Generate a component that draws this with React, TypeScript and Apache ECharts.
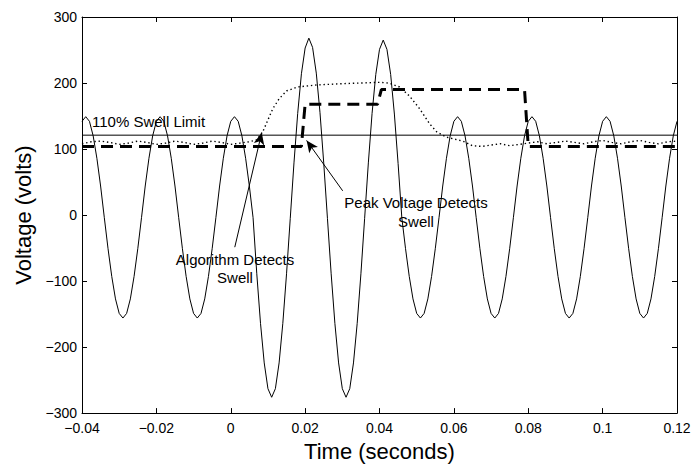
import { useEffect, useRef } from "react";
import * as echarts from "echarts";

// Sampled voltage waveform (1 ms spacing from -0.04 s to 0.12 s)
const T_START = -0.04;
const T_STEP = 0.001;
const voltage = [
  142,
  149, 142, 120, 86, 44, -4, -51, -93, -127, -149, -156, -149, -127, -93, -51, -4, 44, 86, 120, 142,
  149, 142, 120, 86, 44, -4, -51, -93, -127, -149, -156, -149, -127, -93, -51, -4, 44, 86, 120, 142,
  149, 142, 120, 86, 44,
  -4,
  -89, -164, -224, -263, -276, -263, -224, -164, -89, -5, 79, 154, 214, 253,
  268, 254, 215, 155, 79, -5, -89, -164, -224, -263, -276, -263, -224, -164, -89, -5, 79, 154, 213, 251,
  265, 251, 213, 153, 78,
  -4,
  -51, -93, -127, -149, -156, -149, -127, -93, -51, -4, 44, 86, 120, 142,
  149, 142, 120, 86, 44, -4, -51, -93, -127, -149, -156, -149, -127, -93, -51, -4, 44, 86, 120, 142,
  149, 142, 120, 86, 44, -4, -51, -93, -127, -149, -156, -149, -127, -93, -51, -4, 44, 86, 120, 142,
  149, 142, 120, 86, 44, -4, -51, -93, -127, -149, -156, -149, -127, -93, -51, -4, 44, 86, 120, 142,
];

// Algorithm (dotted) estimate
const algorithmT = [
  -0.04, -0.0375, -0.035, -0.0325, -0.03, -0.0275, -0.025, -0.0225, -0.02, -0.0175, -0.015, -0.0125,
  -0.01, -0.0075, -0.005, -0.0025, 0, 0.0025, 0.005, 0.007, 0.0086, 0.0113, 0.013, 0.015, 0.018, 0.023,
  0.03, 0.035, 0.04, 0.0425, 0.0454, 0.0481, 0.0508, 0.0535, 0.0554, 0.058, 0.0624, 0.065, 0.0675, 0.07,
  0.0725, 0.075, 0.0775, 0.08, 0.0825, 0.085, 0.0875, 0.09, 0.0925, 0.095, 0.0975, 0.1, 0.1025, 0.105,
  0.1075, 0.11, 0.1125, 0.115, 0.1175, 0.12,
];
const algorithmV = [
  108, 111, 112, 110, 107, 109, 112, 110, 107, 109, 112, 110,
  107, 109, 112, 110, 107, 109, 111, 114, 126, 161, 176, 188, 194, 197,
  199, 200, 201, 200, 194, 180, 161, 138, 126, 118, 112, 105, 104, 106,
  108, 105, 107, 109, 111, 108, 110, 112, 110, 108, 111, 113, 110, 108,
  111, 113, 110, 108, 111, 112,
];

// Peak voltage (dashed) estimate
const peakT = [-0.04, 0.019, 0.02, 0.0395, 0.0405, 0.079, 0.08, 0.12];
const peakV = [104, 104, 168, 168, 190, 190, 104, 104];

// 110% swell limit
const limitT = [-0.04, 0.12];
const limitV = [121, 121];

// Axis ranges
const X_MIN = -0.04, X_MAX = 0.12, X_STEP = 0.02;
const Y_MIN = -300, Y_MAX = 300, Y_STEP = 100;

// Annotation arrows: [tailT, tailV, tipT, tipV]
const arrowAlgorithm = [0.00108, -48.7, 0.00834, 125];
const arrowPeak = [0.0301, 36.7, 0.0204, 113];

const FONT = "'Liberation Sans', Arial, Helvetica, sans-serif";

const fmt = (v: number) => String(Math.round(v * 1000) / 1000).replace("-", "\u2212");

export default function App() {
  const ref = useRef<HTMLDivElement>(null);
  useEffect(() => {
    if (!ref.current) return;
    const chart = echarts.init(ref.current, undefined, { renderer: "svg" });
    const zip = (t: number[], v: number[]) => t.map((x, i) => [x, v[i]]);
    const sine = voltage.map((v, i) => [T_START + i * T_STEP, v]);
    const axisCommon = {
      axisLine: { show: true, onZero: false, lineStyle: { color: "#000", width: 1 } },
      axisTick: { show: true, inside: true, length: 5, lineStyle: { color: "#000", width: 1 } },
      splitLine: { show: false },
    };
    chart.setOption({
      animation: false,
      backgroundColor: "#fff",
      textStyle: { fontFamily: FONT },
      grid: { left: 82, right: 17, top: 17, bottom: 49, containLabel: false },
      xAxis: [
        {
          type: "value", min: X_MIN, max: X_MAX, interval: X_STEP, position: "bottom",
          ...axisCommon,
          axisLabel: { color: "#000", fontSize: 14, fontFamily: FONT, margin: 8, formatter: fmt },
          name: "Time (seconds)", nameLocation: "middle", nameGap: 24,
          nameTextStyle: { color: "#000", fontSize: 22, fontFamily: FONT },
        },
        {
          type: "value", min: X_MIN, max: X_MAX, interval: X_STEP, position: "top",
          ...axisCommon, axisLabel: { show: false },
        },
      ],
      yAxis: [
        {
          type: "value", min: Y_MIN, max: Y_MAX, interval: Y_STEP, position: "left",
          ...axisCommon,
          axisLabel: { color: "#000", fontSize: 14, fontFamily: FONT, margin: 5, formatter: fmt },
          name: "Voltage (volts)", nameLocation: "middle", nameGap: 47,
          nameTextStyle: { color: "#000", fontSize: 22, fontFamily: FONT },
        },
        {
          type: "value", min: Y_MIN, max: Y_MAX, interval: Y_STEP, position: "right",
          ...axisCommon, axisLabel: { show: false },
        },
      ],
      series: [
        {
          type: "line", data: zip(limitT, limitV), showSymbol: false, silent: true,
          lineStyle: { color: "#000", width: 1 },
          markLine: {
            silent: true, symbol: ["none", "arrow"], symbolSize: [8, 12],
            label: { show: false },
            lineStyle: { color: "#000", width: 1, type: "solid" },
            data: [
              [{ coord: [arrowAlgorithm[0], arrowAlgorithm[1]] }, { coord: [arrowAlgorithm[2], arrowAlgorithm[3]] }],
              [{ coord: [arrowPeak[0], arrowPeak[1]] }, { coord: [arrowPeak[2], arrowPeak[3]] }],
            ],
          },
        },
        {
          type: "line", data: zip(algorithmT, algorithmV), showSymbol: false, silent: true,
          lineStyle: { color: "#000", width: 1.4, type: [1.4, 2.8] },
        },
        {
          type: "line", data: zip(peakT, peakV), showSymbol: false, silent: true,
          lineStyle: { color: "#000", width: 3, type: [12, 7] },
        },
        {
          type: "line", data: sine, showSymbol: false, silent: true,
          lineStyle: { color: "#000", width: 1 },
        },
      ],
      graphic: [
        {
          type: "text", left: 92, top: 114, silent: true,
          style: { text: "110% Swell Limit", fill: "#000", font: `15px ${FONT}` },
        },
        {
          type: "text", x: 235, y: 268, silent: true,
          style: {
            text: "Algorithm Detects\nSwell", fill: "#000", font: `15px ${FONT}`,
            align: "center", verticalAlign: "middle", lineHeight: 18,
          },
        },
        {
          type: "text", x: 416, y: 212, silent: true,
          style: {
            text: "Peak Voltage Detects\nSwell", fill: "#000", font: `15px ${FONT}`,
            align: "center", verticalAlign: "middle", lineHeight: 19,
          },
        },
      ],
    });
    return () => chart.dispose();
  }, []);
  return (
    <div
      ref={ref}
      style={{ position: "fixed", left: 0, top: 0, width: 694, height: 467, background: "#fff" }}
    />
  );
}
